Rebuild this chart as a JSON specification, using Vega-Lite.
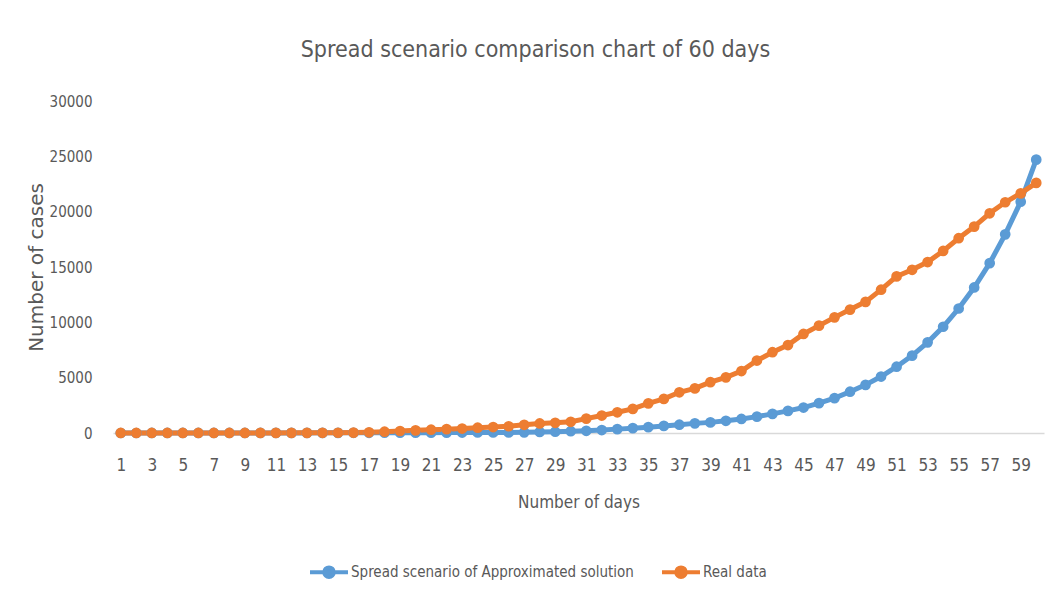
{
  "$schema": "https://vega.github.io/schema/vega-lite/v6.json",
  "autosize": "none",
  "width": 931,
  "height": 332,
  "padding": {"left": 113, "top": 101, "right": 14, "bottom": 173},
  "background": "white",
  "title": {
    "text": "Spread scenario comparison chart of 60 days",
    "font": "Liberation Sans Narrow, DejaVu Sans Condensed, Open Sans",
    "fontSize": 23,
    "fontWeight": "normal",
    "color": "#595959",
    "anchor": "middle",
    "frame": "group",
    "dx": -43,
    "offset": 32
  },
  "data": {
    "values": [
      {"day": 1, "approx": 1, "real": 2},
      {"day": 2, "approx": 1, "real": 2},
      {"day": 3, "approx": 2, "real": 3},
      {"day": 4, "approx": 2, "real": 3},
      {"day": 5, "approx": 3, "real": 3},
      {"day": 6, "approx": 3, "real": 4},
      {"day": 7, "approx": 4, "real": 4},
      {"day": 8, "approx": 5, "real": 5},
      {"day": 9, "approx": 6, "real": 6},
      {"day": 10, "approx": 7, "real": 8},
      {"day": 11, "approx": 8, "real": 10},
      {"day": 12, "approx": 10, "real": 12},
      {"day": 13, "approx": 11, "real": 15},
      {"day": 14, "approx": 13, "real": 18},
      {"day": 15, "approx": 15, "real": 22},
      {"day": 16, "approx": 17, "real": 35},
      {"day": 17, "approx": 19, "real": 65},
      {"day": 18, "approx": 22, "real": 120},
      {"day": 19, "approx": 25, "real": 180},
      {"day": 20, "approx": 28, "real": 240},
      {"day": 21, "approx": 32, "real": 300},
      {"day": 22, "approx": 36, "real": 350},
      {"day": 23, "approx": 40, "real": 400},
      {"day": 24, "approx": 45, "real": 480},
      {"day": 25, "approx": 50, "real": 540},
      {"day": 26, "approx": 55, "real": 610},
      {"day": 27, "approx": 60, "real": 740},
      {"day": 28, "approx": 90, "real": 860},
      {"day": 29, "approx": 120, "real": 920},
      {"day": 30, "approx": 160, "real": 1010},
      {"day": 31, "approx": 200, "real": 1300},
      {"day": 32, "approx": 270, "real": 1580},
      {"day": 33, "approx": 350, "real": 1870},
      {"day": 34, "approx": 440, "real": 2180},
      {"day": 35, "approx": 530, "real": 2680},
      {"day": 36, "approx": 640, "real": 3080},
      {"day": 37, "approx": 750, "real": 3680},
      {"day": 38, "approx": 870, "real": 4030},
      {"day": 39, "approx": 960, "real": 4600},
      {"day": 40, "approx": 1100, "real": 5030},
      {"day": 41, "approx": 1270, "real": 5600},
      {"day": 42, "approx": 1480, "real": 6550},
      {"day": 43, "approx": 1730, "real": 7300},
      {"day": 44, "approx": 2000, "real": 7950},
      {"day": 45, "approx": 2300, "real": 8950},
      {"day": 46, "approx": 2700, "real": 9700},
      {"day": 47, "approx": 3150, "real": 10450},
      {"day": 48, "approx": 3730, "real": 11150},
      {"day": 49, "approx": 4350, "real": 11850},
      {"day": 50, "approx": 5100, "real": 12950},
      {"day": 51, "approx": 5990, "real": 14150},
      {"day": 52, "approx": 6990, "real": 14750},
      {"day": 53, "approx": 8190, "real": 15450},
      {"day": 54, "approx": 9600, "real": 16450},
      {"day": 55, "approx": 11250, "real": 17600},
      {"day": 56, "approx": 13150, "real": 18650},
      {"day": 57, "approx": 15350, "real": 19850},
      {"day": 58, "approx": 17950, "real": 20850},
      {"day": 59, "approx": 20900, "real": 21650},
      {"day": 60, "approx": 24700, "real": 22600}
    ]
  },
  "transform": [
    {"fold": ["approx", "real"], "as": ["series", "cases"]}
  ],
  "encoding": {
    "x": {
      "field": "day",
      "type": "ordinal",
      "scale": {"type": "point", "padding": 0.5},
      "axis": {
        "title": "Number of days",
        "labelAngle": 0,
        "labelExpr": "datum.value % 2 === 1 ? datum.label : ''",
        "ticks": false,
        "domainColor": "#d9d9d9",
        "domainWidth": 1.5,
        "labelPadding": 24,
        "labelFontSize": 17,
        "titleFontSize": 17,
        "titlePadding": 21,
        "labelColor": "#595959",
        "titleColor": "#595959",
        "titleFontWeight": "normal",
        "labelFont": "Liberation Sans Narrow, DejaVu Sans Condensed, Open Sans",
        "titleFont": "Liberation Sans Narrow, DejaVu Sans Condensed, Open Sans"
      }
    },
    "y": {
      "field": "cases",
      "type": "quantitative",
      "scale": {"domain": [0, 30000]},
      "axis": {
        "title": "Number of cases",
        "values": [0, 5000, 10000, 15000, 20000, 25000, 30000],
        "format": "d",
        "grid": false,
        "domain": false,
        "ticks": false,
        "labelPadding": 21,
        "labelFontSize": 15,
        "titleFontSize": 20,
        "titlePadding": 3,
        "labelColor": "#595959",
        "titleColor": "#595959",
        "titleFontWeight": "normal",
        "labelFont": "Liberation Sans Narrow, DejaVu Sans Condensed, Open Sans",
        "titleFont": "DejaVu Sans"
      }
    },
    "color": {
      "field": "series",
      "type": "nominal",
      "scale": {"domain": ["approx", "real"], "range": ["#5B9BD5", "#ED7D31"]},
      "legend": {
        "title": null,
        "orient": "none",
        "legendX": 195,
        "legendY": 450,
        "direction": "horizontal",
        "labelExpr": "datum.value === 'approx' ? 'Spread scenario of Approximated solution' : 'Real data'",
        "labelLimit": 0,
        "symbolType": "M -1 0 L 1 0 M 0.25 0 A 0.25 0.25 0 1 1 -0.25 0 A 0.25 0.25 0 1 1 0.25 0",
        "symbolSize": 1444,
        "symbolStrokeWidth": 4,
        "labelFontSize": 15,
        "labelColor": "#595959",
        "labelFont": "Liberation Sans Narrow, DejaVu Sans Condensed, Open Sans",
        "labelOffset": 1,
        "columnPadding": 20
      }
    }
  },
  "layer": [
    {"mark": {"type": "line", "strokeWidth": 5}},
    {"mark": {"type": "point", "filled": true, "size": 115, "opacity": 1}}
  ],
  "config": {"view": {"stroke": null}}
}
